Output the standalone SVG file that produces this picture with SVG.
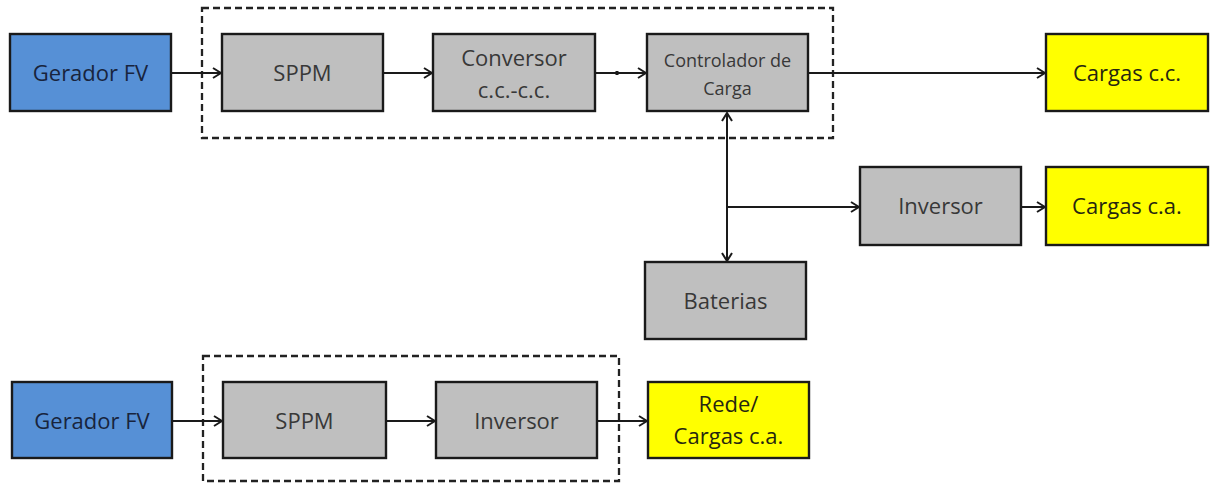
<svg xmlns="http://www.w3.org/2000/svg" width="1213" height="483" viewBox="0 0 1213 483">
<style>
.box{stroke:#1a1a1a;stroke-width:2.4}
.blue{fill:#5690D6}
.grey{fill:#BFBFBF}
.yellow{fill:#FFFF00}
.dash{fill:none;stroke:#222;stroke-width:2.3;stroke-dasharray:7 4}
.t{font-family:"Open Sans","Liberation Sans",sans-serif;font-size:22px;text-anchor:middle}
.tb{fill:#18243d}
.tg{fill:#383838}
.ty{fill:#262610}
.ln{fill:none;stroke:#1a1a1a;stroke-width:2}
</style>
<defs>
<marker id="ah" viewBox="0 0 12 12" refX="11" refY="6" markerWidth="12" markerHeight="12" markerUnits="userSpaceOnUse" orient="auto-start-reverse">
<path d="M3,1 L11,6 L3,11" fill="none" stroke="#1a1a1a" stroke-width="2"/>
</marker>
</defs>
<rect width="1213" height="483" fill="#fff"/>
<rect class="dash" x="202" y="8" width="631" height="130"/>
<rect class="dash" x="203" y="356" width="416" height="125"/>
<g id="connectors">
<line class="ln" x1="171" y1="73" x2="221" y2="73" marker-end="url(#ah)"/>
<line class="ln" x1="383" y1="73" x2="432" y2="73" marker-end="url(#ah)"/>
<line class="ln" x1="595" y1="73" x2="646" y2="73" marker-end="url(#ah)"/>
<rect x="615.5" y="71" width="3" height="4" fill="#1a1a1a"/>
<line class="ln" x1="808" y1="73" x2="1045" y2="73" marker-end="url(#ah)"/>
<line class="ln" x1="727" y1="113" x2="727" y2="261" marker-start="url(#ah)" marker-end="url(#ah)"/>
<line class="ln" x1="727" y1="207" x2="859" y2="207" marker-end="url(#ah)"/>
<line class="ln" x1="1021" y1="207" x2="1045" y2="207" marker-end="url(#ah)"/>
<line class="ln" x1="172" y1="421" x2="222" y2="421" marker-end="url(#ah)"/>
<line class="ln" x1="386" y1="421" x2="435" y2="421" marker-end="url(#ah)"/>
<line class="ln" x1="597" y1="421" x2="647" y2="421" marker-end="url(#ah)"/>
</g>
<g id="gerador1"><rect class="box blue" x="10" y="34" width="161" height="77"/><text class="t tb" x="90.5" y="81">Gerador FV</text></g>
<g id="sppm1"><rect class="box grey" x="222" y="34" width="161" height="77"/><text class="t tg" x="302.5" y="81">SPPM</text></g>
<g id="conversor"><rect class="box grey" x="433" y="34" width="162" height="77"/><text class="t tg" x="514" y="66">Conversor</text><text class="t tg" x="514" y="98">c.c.-c.c.</text></g>
<g id="controlador"><rect class="box grey" x="647" y="34" width="161" height="77"/><text class="t tg" x="727.5" y="67" style="font-size:18px">Controlador de</text><text class="t tg" x="727.5" y="95" style="font-size:18px">Carga</text></g>
<g id="cargascc"><rect class="box yellow" x="1046" y="34" width="162" height="77"/><text class="t ty" x="1127" y="81">Cargas c.c.</text></g>
<g id="inversor1"><rect class="box grey" x="860" y="167" width="161" height="78"/><text class="t tg" x="940.5" y="214">Inversor</text></g>
<g id="cargasca"><rect class="box yellow" x="1046" y="167" width="162" height="78"/><text class="t ty" x="1127" y="214">Cargas c.a.</text></g>
<g id="baterias"><rect class="box grey" x="645" y="262" width="161" height="77"/><text class="t tg" x="725.5" y="309">Baterias</text></g>
<g id="gerador2"><rect class="box blue" x="12" y="382" width="160" height="76"/><text class="t tb" x="92" y="429">Gerador FV</text></g>
<g id="sppm2"><rect class="box grey" x="223" y="382" width="163" height="76"/><text class="t tg" x="304.5" y="429">SPPM</text></g>
<g id="inversor2"><rect class="box grey" x="436" y="382" width="161" height="76"/><text class="t tg" x="516.5" y="429">Inversor</text></g>
<g id="rede"><rect class="box yellow" x="648" y="382" width="161" height="76"/><text class="t ty" x="728.5" y="412">Rede/</text><text class="t ty" x="728.5" y="444">Cargas c.a.</text></g>
</svg>
